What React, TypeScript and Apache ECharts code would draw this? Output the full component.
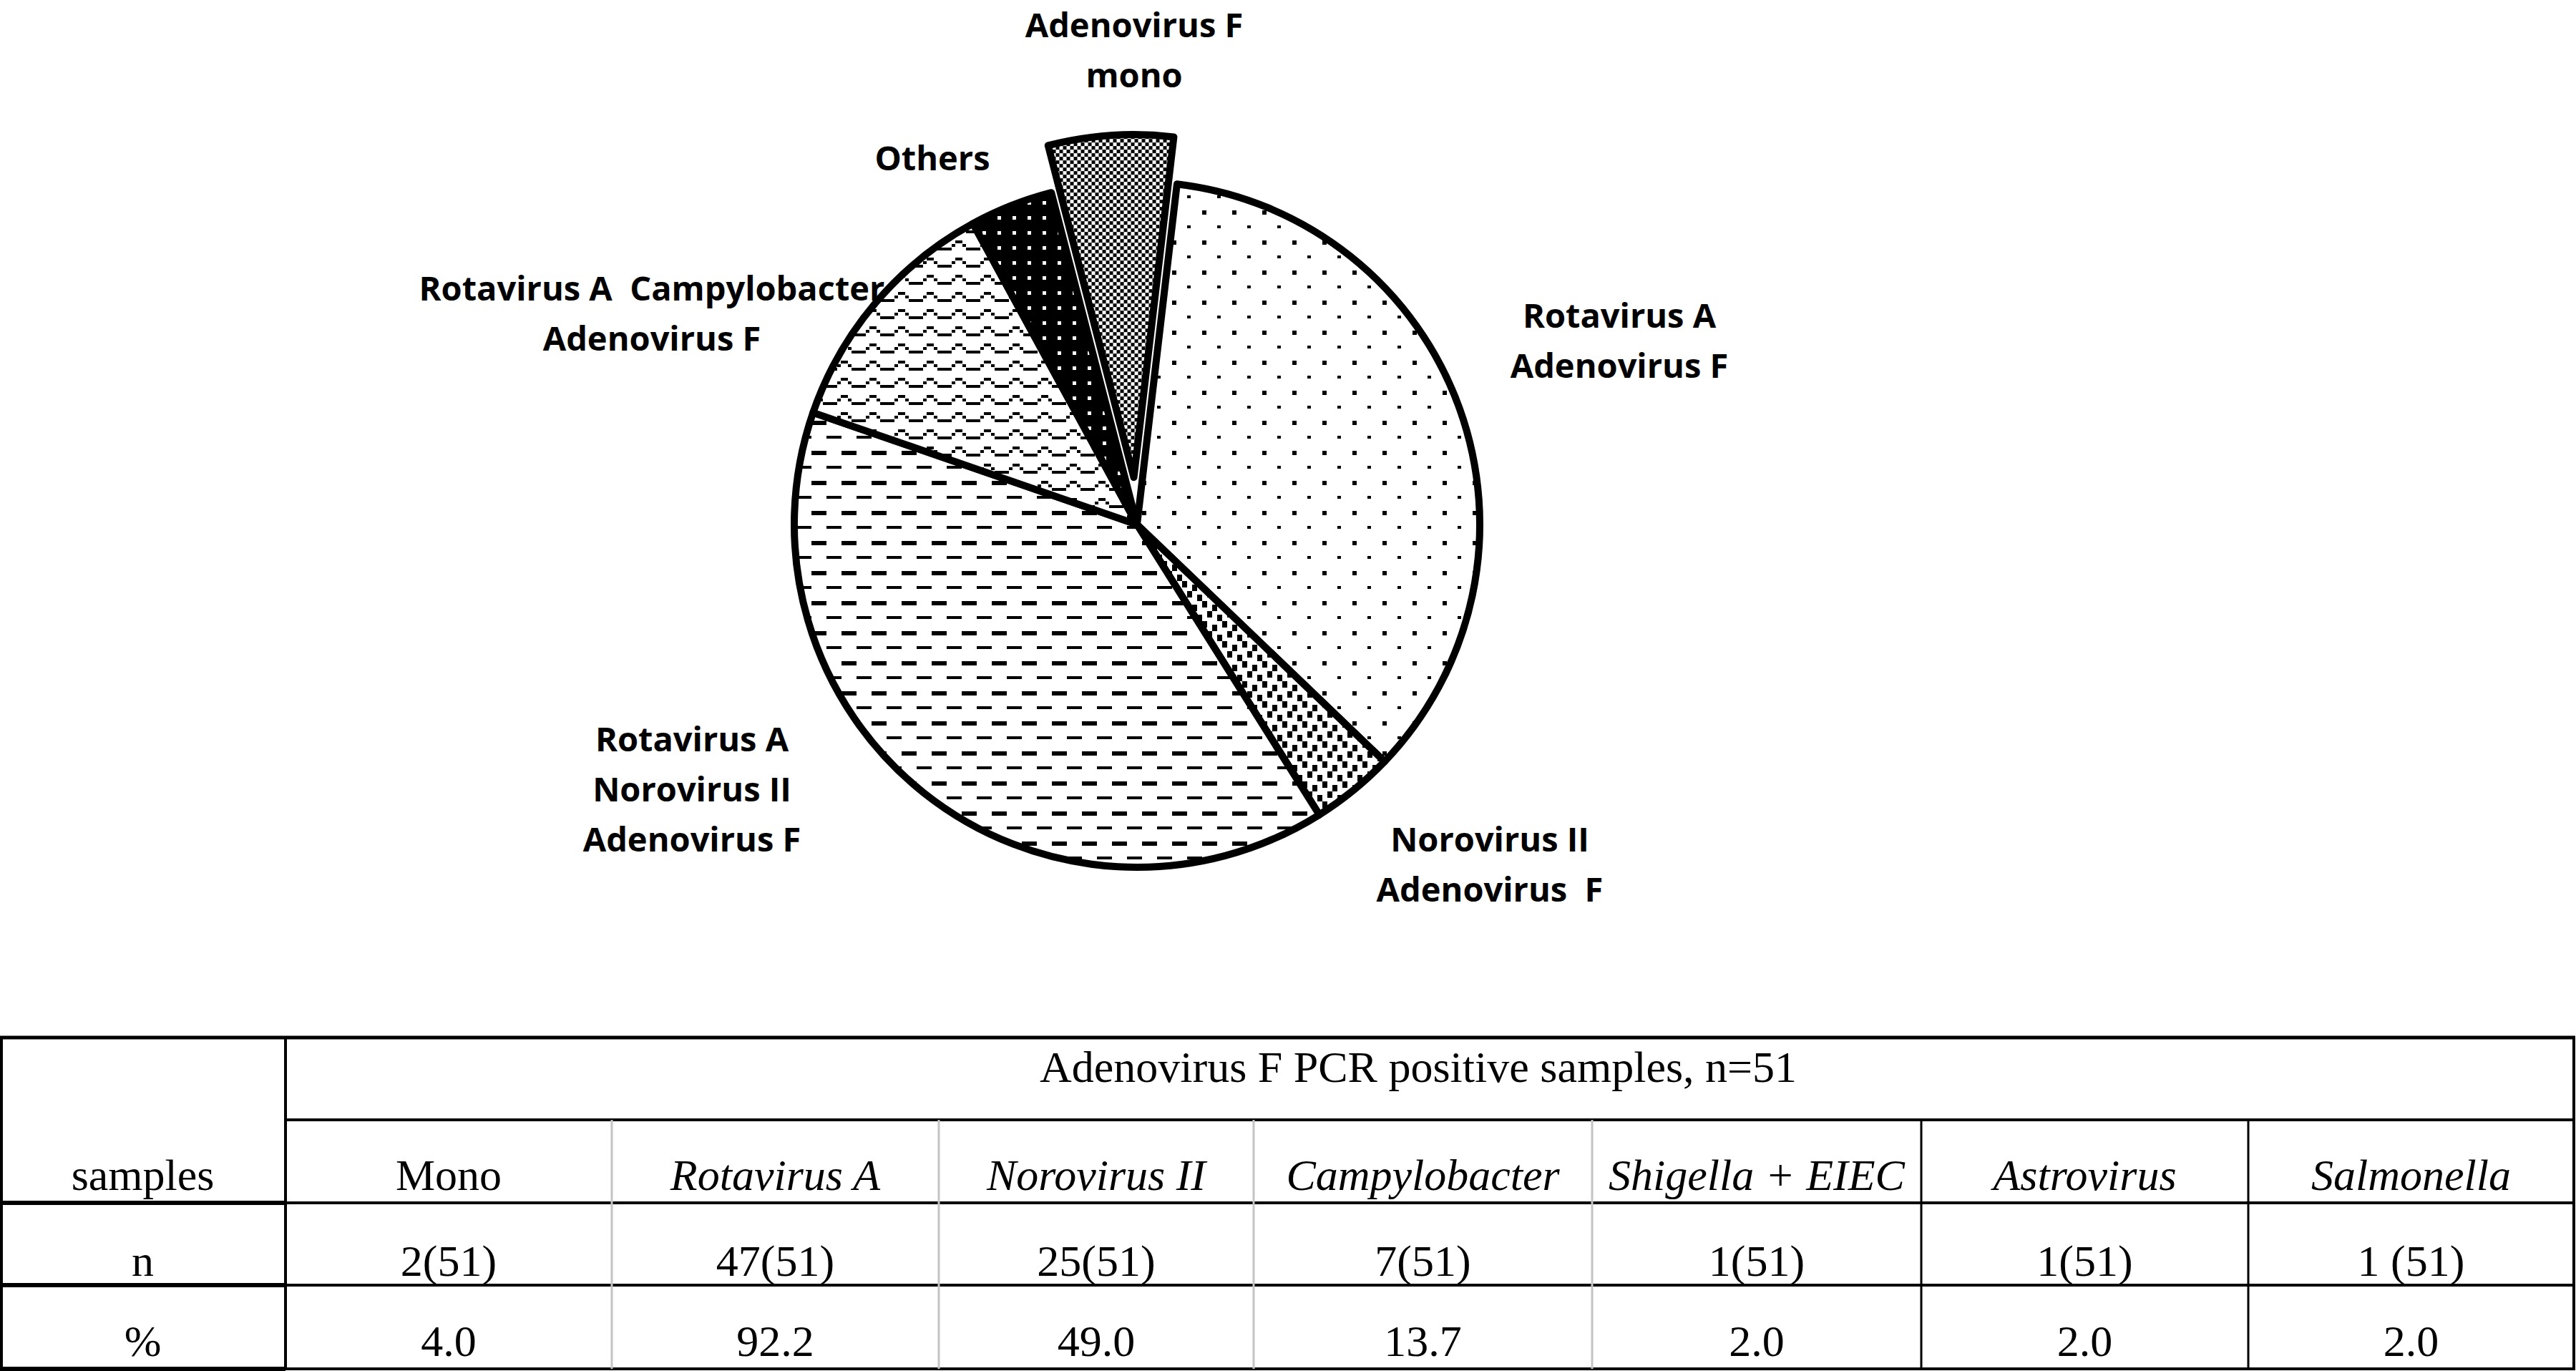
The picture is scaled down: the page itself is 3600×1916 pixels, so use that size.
import React, { useEffect, useRef } from 'react';
import * as echarts from 'echarts';

// ---------- data ----------
const pieNames = [
  'Rotavirus A Adenovirus F',
  'Norovirus II Adenovirus F',
  'Rotavirus A Norovirus II Adenovirus F',
  'Rotavirus A Campylobacter Adenovirus F',
  'Others',
  'Adenovirus F mono',
];
const pieValues = [18, 2, 20, 6, 2, 3];
const pieLabelTexts = [
  'Rotavirus A\nAdenovirus F',
  'Norovirus II\nAdenovirus  F',
  'Rotavirus A\nNorovirus II\nAdenovirus F',
  'Rotavirus A  Campylobacter\nAdenovirus F',
  'Others',
  'Adenovirus F\nmono',
];
const explodedIndex = 5;

const tableTitle = 'Adenovirus F PCR positive samples, n=51';
const rowHeaders = ['samples', 'n', '%'];
const categories = ['Mono', 'Rotavirus A', 'Norovirus II', 'Campylobacter', 'Shigella + EIEC', 'Astrovirus', 'Salmonella'];
const categoryItalic = [false, true, true, true, true, true, true];
const nValues = ['2(51)', '47(51)', '25(51)', '7(51)', '1(51)', '1(51)', '1 (51)'];
const pctValues = ['4.0', '92.2', '49.0', '13.7', '2.0', '2.0', '2.0'];

// ---------- layout ----------
const W = 3600;
const H = 1916;
const PIE_CENTER = [1589, 733];
const PIE_RADIUS = 479;
const START_ANGLE = 83.3;
const LABEL_FONT = 47;
const LABEL_LH = 70;
// label anchors: [center x, baseline of first line]
const labelAnchors = [
  [2263, 458],
  [2082, 1190],
  [967, 1050],
  [911, 420],
  [1303, 238],
  [1585, 52],
];
const colX = [0, 399, 855, 1312, 1752, 2225, 2685, 3142, 3597];
const rowY = [1450, 1565, 1681, 1796, 1913];
const grayCols = [true, true, true, true, false, false];
const TABLE_FONT = 62;
const SERIF = '"Liberation Serif", "Times New Roman", serif';

function tile(w: number, h: number, bg: string, draw: (ctx: CanvasRenderingContext2D) => void) {
  const c = document.createElement('canvas');
  c.width = w;
  c.height = h;
  const ctx = c.getContext('2d') as CanvasRenderingContext2D;
  ctx.fillStyle = bg;
  ctx.fillRect(0, 0, w, h);
  ctx.fillStyle = '#000';
  draw(ctx);
  return { image: c, repeat: 'repeat', imageWidth: w, imageHeight: h } as any;
}

function makePatterns() {
  const dots = tile(42, 42, '#fff', (ctx) => {
    ctx.fillRect(0, 0, 6, 6);
    ctx.fillRect(21, 21, 5, 4);
  });
  const confetti = tile(28, 28, '#fff', (ctx) => {
    ctx.fillRect(0, 0, 7, 9);
    ctx.fillRect(14, 5, 7, 9);
    ctx.fillRect(7, 14, 7, 9);
    ctx.fillRect(21, 19, 7, 9);
  });
  const dashes = tile(42, 42, '#fff', (ctx) => {
    ctx.fillRect(0, 0, 21, 6);
    ctx.fillRect(21, 21, 21, 4);
  });
  const wave = tile(40, 24, '#fff', (ctx) => {
    const u = 5;
    const px = (x: number, y: number) => ctx.fillRect(x * u, y * 5, u, 4);
    px(3, 0); px(4, 0);
    px(2, 1); px(5, 1);
    px(0, 2); px(1, 2); px(6, 2); px(7, 2);
  });
  const others = tile(21, 21, '#000', (ctx) => {
    ctx.fillStyle = '#fff';
    ctx.fillRect(8, 8, 5, 5);
  });
  const checker = tile(10, 10, '#fff', (ctx) => {
    ctx.fillRect(0, 0, 5, 5);
    ctx.fillRect(5, 5, 5, 5);
  });
  return [dots, confetti, dashes, wave, others, checker];
}

function buildLabels(): any[] {
  const els: any[] = [];
  pieLabelTexts.forEach((t, i) => {
    t.split('\n').forEach((ln, k) => {
      els.push({
        type: 'text',
        silent: true,
        x: labelAnchors[i][0],
        y: labelAnchors[i][1] + k * LABEL_LH - 0.388 * LABEL_FONT,
        style: {
          text: ln,
          fill: '#000',
          fontSize: LABEL_FONT,
          fontWeight: 'bold',
          fontFamily: '"Open Sans", sans-serif',
          align: 'center',
          verticalAlign: 'middle',
        },
      });
    });
  });
  return els;
}

function buildTable(): any[] {
  const els: any[] = [];
  const line = (x1: number, y1: number, x2: number, y2: number, w: number, color = '#000') =>
    els.push({ type: 'line', silent: true, shape: { x1, y1, x2, y2 }, style: { stroke: color, lineWidth: w } });
  const left = colX[0] + 2;
  const right = colX[colX.length - 1];
  line(left - 2, rowY[0], right + 2, rowY[0], 5);
  line(colX[1], rowY[1], right, rowY[1], 4);
  line(left - 2, rowY[2], colX[1], rowY[2], 6);
  line(colX[1], rowY[2], right, rowY[2], 4);
  line(left - 2, rowY[3], colX[1], rowY[3], 6);
  line(colX[1], rowY[3], right, rowY[3], 4);
  line(left - 2, rowY[4], colX[1], rowY[4], 6);
  line(colX[1], rowY[4], right + 2, rowY[4], 4);
  line(left, rowY[0], left, rowY[4], 4);
  line(colX[1], rowY[0], colX[1], rowY[4], 4);
  line(right, rowY[0], right, rowY[4], 4);
  for (let i = 2; i < colX.length - 1; i++) {
    const gray = grayCols[i - 2];
    line(colX[i], rowY[1], colX[i], rowY[4], 3, gray ? '#c4c4c4' : '#000');
  }
  const text = (t: string, cx: number, baseline: number, italic = false) =>
    els.push({
      type: 'text',
      silent: true,
      x: cx,
      y: baseline - 0.3375 * TABLE_FONT,
      style: {
        text: t,
        fill: '#000',
        fontSize: TABLE_FONT,
        fontFamily: SERIF,
        fontStyle: italic ? 'italic' : 'normal',
        align: 'center',
        verticalAlign: 'middle',
      },
    });
  text(tableTitle, 1982, rowY[0] + 62);
  const bl = [rowY[2] - 18, rowY[3] - 13, rowY[4] - 18];
  rowHeaders.forEach((h, i) => text(h, (colX[0] + colX[1]) / 2, bl[i]));
  categories.forEach((c, i) => {
    const cx = (colX[i + 1] + colX[i + 2]) / 2;
    text(c, cx, bl[0], categoryItalic[i]);
    text(nValues[i], cx, bl[1]);
    text(pctValues[i], cx, bl[2]);
  });
  return els;
}

export default function App() {
  const ref = useRef<HTMLDivElement>(null);
  useEffect(() => {
    if (!ref.current) return;
    const chart = echarts.init(ref.current, undefined, { renderer: 'svg', width: W, height: H });
    const patterns = makePatterns();
    const option: any = {
      animation: false,
      backgroundColor: '#fff',
      series: [
        {
          type: 'pie',
          center: PIE_CENTER,
          radius: PIE_RADIUS,
          startAngle: START_ANGLE,
          clockwise: true,
          avoidLabelOverlap: false,
          selectedMode: 'single',
          selectedOffset: 66,
          emphasis: { disabled: true },
          itemStyle: { borderColor: '#000', borderWidth: 10, borderJoin: 'round' },
          select: { itemStyle: { borderColor: '#000', borderWidth: 10 } },
          label: { show: false },
          labelLine: { show: false },
          data: pieNames.map((name, i) => ({
            name,
            value: pieValues[i],
            selected: i === explodedIndex,
            itemStyle: { color: patterns[i] },
          })),
        },
      ],
      graphic: { elements: [...buildTable(), ...buildLabels()] },
    };
    chart.setOption(option);
    return () => chart.dispose();
  }, []);
  return (
    <div
      ref={ref}
      style={{ position: 'absolute', left: 0, top: 0, width: W, height: H, background: '#fff' }}
    />
  );
}
